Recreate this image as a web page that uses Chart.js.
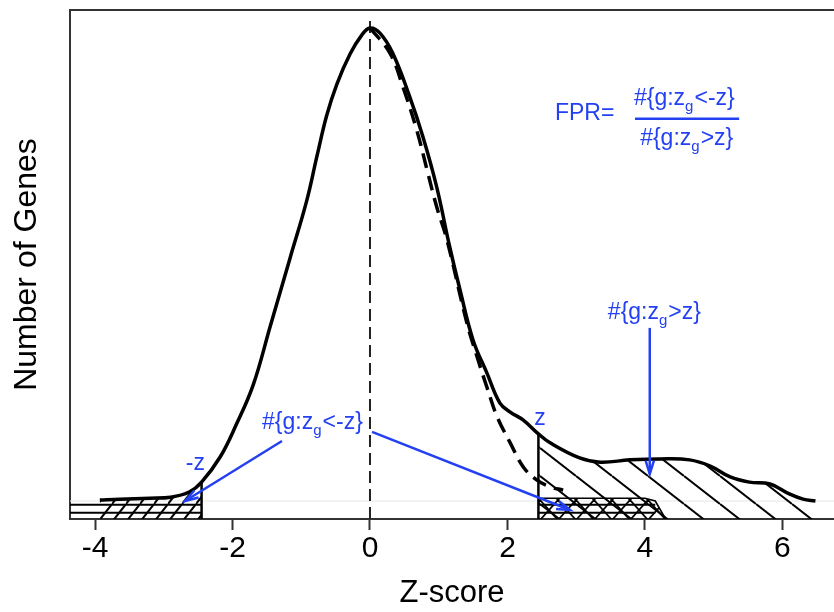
<!DOCTYPE html>
<html>
<head>
<meta charset="utf-8">
<script src="https://cdn.jsdelivr.net/npm/chart.js@4/dist/chart.umd.min.js"></script>
<style>
  html, body { margin: 0; padding: 0; background: #fff; }
  canvas { display: block; }
</style>
</head>
<body>
<canvas id="c" width="834" height="612"></canvas>
<script>
// ---- data ----
const xTicks = [-4, -2, 0, 2, 4, 6];

// observed z-score density (solid curve), relative to its peak
const zObs = [-3.93, -3.64, -3.2, -2.9, -2.63, -2.45, -2.18, -1.95, -1.7, -1.45, -1.16, -0.92, -0.77, -0.63, -0.48, -0.29, -0.12, 0,
  0.145, 0.33, 0.58, 0.77, 0.97, 1.16, 1.31, 1.5, 1.7, 1.89, 2.04, 2.23, 2.45, 2.62, 3.05, 3.35, 3.78, 4.22, 4.65, 4.95,
  5.24, 5.52, 5.82, 6.1, 6.3, 6.48];
const obsDensity = [0.002, 0.004, 0.006, 0.008, 0.019, 0.040, 0.093, 0.160, 0.245, 0.370, 0.515, 0.635, 0.730, 0.815, 0.882, 0.945, 0.985, 1.0,
  0.989, 0.947, 0.854, 0.770, 0.664, 0.537, 0.446, 0.340, 0.271, 0.207, 0.188, 0.171, 0.142, 0.123, 0.091, 0.082, 0.087, 0.089, 0.087, 0.074,
  0.051, 0.040, 0.036, 0.015, 0.004, 0.0];

// null density (dashed curve), right half
const zNull = [0, 0.29, 0.48, 0.68, 0.83, 0.97, 1.12, 1.41, 1.56, 1.7, 1.85, 2.04, 2.23, 2.43, 2.62, 2.81];
const nullDensity = [1.0, 0.947, 0.875, 0.784, 0.700, 0.622, 0.552, 0.376, 0.304, 0.241, 0.178, 0.123, 0.072, 0.044, 0.030, 0.023];

// null tail beyond the cut-off (cross-hatched)
const zNullTail = [2.45, 2.62, 2.81, 3.0, 3.5, 4.0, 4.15, 4.3];
const nullTailDensity = [0.006, 0.006, 0.006, 0.006, 0.006, 0.006, 0.0, -0.038];

const zCut = 2.45;
const bandLevels = [-0.008, -0.025];
const bandEnd = 4.15;

const X_MIN = -4.364, X_MAX = 6.75;
const Y_MIN = -0.038, Y_MAX = 1.038;

// ---- helpers ----
const pts = (xs, ys) => xs.map((x, i) => ({ x, y: ys[i] }));
const obsPts = pts(zObs, obsDensity);
const leftTail = obsPts.filter(p => p.x <= -zCut);
const rightTail = obsPts.filter(p => p.x >= zCut);
const valAt = x => obsDensity[zObs.indexOf(x)];

function hatch(w, h, dirs, lw) {
  const c = document.createElement('canvas');
  c.width = w; c.height = h;
  const g = c.getContext('2d');
  g.strokeStyle = '#000';
  g.lineWidth = lw;
  for (const d of dirs) {
    for (let n = -1; n <= 1; n++) {
      g.beginPath();
      if (d === '\\') { g.moveTo(0, n * h); g.lineTo(w, n * h + h); }
      else { g.moveTo(0, n * h + h); g.lineTo(w, n * h); }
      g.stroke();
    }
  }
  return g.createPattern(c, 'repeat');
}
const backHatch = hatch(36, 28, ['\\'], 2);
const fwdHatch = hatch(14, 18, ['/'], 2);
const crossHatch = hatch(18, 20, ['/', '\\'], 1.8);

const FONT = "'Liberation Sans', Arial, Helvetica, sans-serif";
Chart.defaults.font.family = FONT;
const BLUE = '#2340f2';

const lineDs = (data, extra) => Object.assign({
  data, borderColor: '#000', borderWidth: 2, pointRadius: 0, fill: false, tension: 0
}, extra);

// ---- annotations ----
function drawRich(ctx, parts, x, y) {
  let cx = x;
  for (const p of parts) {
    ctx.font = (p.sub ? '15px ' : '23px ') + FONT;
    ctx.fillText(p.t, cx, p.sub ? y + 6 : y);
    cx += ctx.measureText(p.t).width + (p.sub ? 1 : 0);
  }
}
function arrow(ctx, x1, y1, x2, y2) {
  ctx.beginPath(); ctx.moveTo(x1, y1); ctx.lineTo(x2, y2); ctx.stroke();
  const a = Math.atan2(y2 - y1, x2 - x1), L = 14, s = 0.3;
  ctx.beginPath();
  ctx.moveTo(x2 - L * Math.cos(a - s), y2 - L * Math.sin(a - s));
  ctx.lineTo(x2, y2);
  ctx.lineTo(x2 - L * Math.cos(a + s), y2 - L * Math.sin(a + s));
  ctx.stroke();
}
const lessLabel = [{ t: '#{g:z' }, { t: 'g', sub: true }, { t: '<-z}' }];
const moreLabel = [{ t: '#{g:z' }, { t: 'g', sub: true }, { t: '>z}' }];

const notes = {
  id: 'notes',
  afterDatasetsDraw(chart) {
    const { ctx, scales: { x, y }, chartArea } = chart;
    const X = v => x.getPixelForValue(v), Y = v => y.getPixelForValue(v);
    ctx.save();
    // top frame line
    ctx.strokeStyle = '#333'; ctx.lineWidth = 2;
    ctx.beginPath(); ctx.moveTo(chartArea.left, chartArea.top); ctx.lineTo(chartArea.right, chartArea.top); ctx.stroke();

    ctx.fillStyle = BLUE; ctx.strokeStyle = BLUE;
    ctx.textAlign = 'left'; ctx.textBaseline = 'alphabetic';
    ctx.font = '23px ' + FONT;
    ctx.fillText('FPR=', X(2.69), Y(0.805));
    drawRich(ctx, lessLabel, X(3.84), Y(0.837));
    drawRich(ctx, moreLabel, X(3.93), Y(0.753));
    ctx.lineWidth = 2.5;
    ctx.beginPath(); ctx.moveTo(X(3.855), Y(0.808)); ctx.lineTo(X(5.37), Y(0.808)); ctx.stroke();

    drawRich(ctx, moreLabel, X(3.46), Y(0.385));
    drawRich(ctx, lessLabel, X(-1.57), Y(0.152));
    ctx.font = '23px ' + FONT;
    ctx.fillText('-z', X(-2.68), Y(0.066));
    ctx.fillText('z', X(2.39), Y(0.161));

    ctx.lineWidth = 2.5;
    arrow(ctx, X(4.07), Y(0.366), X(4.07), Y(0.057));
    arrow(ctx, X(-1.28), Y(0.127), X(-2.69), Y(0.0));
    arrow(ctx, X(0.03), Y(0.146), X(2.91), Y(-0.019));
    ctx.restore();
  }
};

// ---- chart ----
const datasets = [
  lineDs(obsPts, { borderWidth: 3.5, tension: 0.4 }),
  lineDs(pts(zNull, nullDensity), { borderWidth: 3.5, borderDash: [15, 8], tension: 0.4 }),
  lineDs([{ x: 0, y: Y_MIN }, { x: 0, y: 1.02 }], { borderColor: '#222', borderDash: [12, 6] }),
  lineDs([{ x: -zCut, y: Y_MIN }, { x: -zCut, y: valAt(-zCut) }], { borderWidth: 2.5 }),
  lineDs([{ x: zCut, y: Y_MIN }, { x: zCut, y: valAt(zCut) }], { borderWidth: 2.5 }),
  ...bandLevels.map(b => lineDs([{ x: X_MIN, y: b }, { x: -zCut, y: b }])),
  ...bandLevels.map(b => lineDs([{ x: zCut, y: b }, { x: bandEnd, y: b }])),
  lineDs(pts(zNullTail, nullTailDensity), { borderWidth: 1.6, fill: 'start', backgroundColor: crossHatch }),
  lineDs(rightTail, { borderWidth: 0, fill: 'start', backgroundColor: backHatch, tension: 0.4 }),
  lineDs(leftTail, { borderWidth: 0, fill: 'start', backgroundColor: fwdHatch, tension: 0.4 }),
  lineDs([{ x: X_MIN, y: 0 }, { x: X_MAX, y: 0 }], { borderColor: '#e6e6e6', borderWidth: 1 })
];

new Chart(document.getElementById('c'), {
  type: 'line',
  data: { datasets },
  options: {
    responsive: false,
    animation: false,
    events: [],
    layout: { padding: { top: 10, right: 0, left: 0, bottom: 0 } },
    plugins: { legend: { display: false }, tooltip: { enabled: false } },
    scales: {
      x: {
        type: 'linear', min: X_MIN, max: X_MAX,
        afterBuildTicks: s => { s.ticks = xTicks.map(v => ({ value: v })); },
        afterFit: s => { s.height = 93; },
        ticks: { color: '#000', font: { size: 30 }, padding: 1, maxRotation: 0, autoSkip: false, callback: v => String(v) },
        grid: { display: true, drawOnChartArea: false, drawTicks: true, tickLength: 11, tickWidth: 2, tickColor: '#333' },
        border: { display: true, color: '#333', width: 2 },
        title: { display: true, text: 'Z-score', color: '#000', font: { size: 31 }, padding: { top: 0, bottom: 0 } }
      },
      y: {
        type: 'linear', min: Y_MIN, max: Y_MAX,
        afterFit: s => { s.width = 70; },
        ticks: { display: false },
        grid: { display: false },
        border: { display: true, color: '#333', width: 2 },
        title: { display: true, text: 'Number of Genes', color: '#000', font: { size: 32 }, padding: { top: 8, bottom: 0 } }
      }
    }
  },
  plugins: [notes]
});
</script>
</body>
</html>
